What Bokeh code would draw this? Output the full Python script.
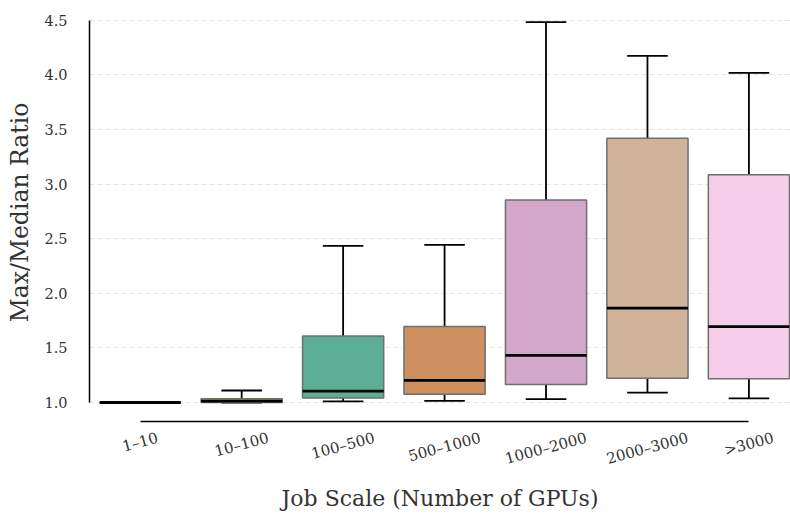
import math
from bokeh.plotting import figure
from bokeh.models import FixedTicker, PrintfTickFormatter, ColumnDataSource, CustomJSTickFormatter
from bokeh.embed import file_html
from bokeh.resources import INLINE

categories = ["1–10", "10–100", "100–500", "500–1000", "1000–2000", "2000–3000", ">3000"]
lower_whisker = [1.00, 1.00, 1.011, 1.014, 1.03, 1.09, 1.038]
q1 = [1.00, 1.00, 1.041, 1.075, 1.164, 1.221, 1.218]
median = [1.00, 1.012, 1.105, 1.203, 1.431, 1.864, 1.694]
q3 = [1.00, 1.035, 1.608, 1.697, 2.855, 3.421, 3.086]
upper_whisker = [1.00, 1.11, 2.434, 2.443, 4.484, 4.174, 4.018]
y_ticks = [1.0, 1.5, 2.0, 2.5, 3.0, 3.5, 4.0, 4.5]

colors = ["#6c9ec1", "#d5ac63", "#5cae94", "#cf905f", "#d4a8cb", "#d1b399", "#f5cde9"]

xs = list(range(len(categories)))
src = ColumnDataSource(dict(
    x=xs, lw=lower_whisker, q1=q1, med=median, q3=q3, uw=upper_whisker, color=colors,
    xl=[x - 0.4 for x in xs], xr=[x + 0.4 for x in xs],
    cl=[x - 0.2 for x in xs], cr=[x + 0.2 for x in xs],
))

FONT = "DejaVu Serif"
XLAB_PX = 15.0
PX_PER_UNIT = 101.5


def label_shift(s):
    # approximate half of the rotated label's horizontal extent, in data units,
    # so rotated (right-anchored) labels end up centred on their category
    w = 0.0
    for ch in s:
        if ch.isdigit():
            w += 0.636
        elif ch == "–":
            w += 0.5
        elif ch == ">":
            w += 0.838
        else:
            w += 0.6
    return w * XLAB_PX * math.cos(math.radians(15)) / 2 / PX_PER_UNIT


label_ticks = [i + label_shift(c) for i, c in enumerate(categories)]

p = figure(width=790, height=513, x_range=(-0.5, 6.41), y_range=(0.826, 4.654),
           output_backend="svg", toolbar_location=None,
           min_border_left=89, min_border_right=0, min_border_top=3, min_border_bottom=92)
p.outline_line_color = None
p.background_fill_color = "white"

# whiskers
p.segment(x0="x", y0="q3", x1="x", y1="uw", source=src, line_color="black", line_width=1.8)
p.segment(x0="x", y0="lw", x1="x", y1="q1", source=src, line_color="black", line_width=1.8)
# caps
p.segment(x0="cl", y0="uw", x1="cr", y1="uw", source=src, line_color="black", line_width=1.8)
p.segment(x0="cl", y0="lw", x1="cr", y1="lw", source=src, line_color="black", line_width=1.8)
# boxes
p.vbar(x="x", width=0.8, bottom="q1", top="q3", source=src, fill_color="color",
       line_color="#6f6f6f", line_width=1.5)
# medians
p.segment(x0="xl", y0="med", x1="xr", y1="med", source=src, line_color="black", line_width=2.8)

# axes
p.xaxis.ticker = FixedTicker(ticks=label_ticks)
p.xaxis.formatter = CustomJSTickFormatter(args=dict(labels=categories),
                                          code="return labels[Math.round(tick - 0.3)];")
p.xaxis.bounds = (0, 6)
p.xaxis.major_label_orientation = math.radians(15)
p.yaxis.ticker = FixedTicker(ticks=y_ticks)
p.yaxis.formatter = PrintfTickFormatter(format="%.1f")
p.yaxis.bounds = (1.0, 4.5)

for ax in (p.xaxis, p.yaxis):
    ax.axis_line_color = "black"
    ax.axis_line_width = 1.5
    ax.major_tick_line_color = None
    ax.minor_tick_line_color = None
    ax.major_label_text_font = FONT
    ax.major_label_text_color = "#333333"
    ax.axis_label_text_font = FONT
    ax.axis_label_text_font_style = "normal"
    ax.axis_label_text_color = "#333333"

p.xaxis.axis_label_text_font_size = "22px"
p.yaxis.axis_label_text_font_size = "23.5px"
p.xaxis.major_label_text_font_size = "15px"
p.yaxis.major_label_text_font_size = "14.5px"
p.xaxis.axis_label = "Job Scale (Number of GPUs)"
p.yaxis.axis_label = "Max/Median Ratio"
p.xaxis.major_label_standoff = 10
p.xaxis.axis_label_standoff = 6
p.yaxis.major_label_standoff = 16
p.yaxis.axis_label_standoff = 7

p.xgrid.grid_line_color = None
p.ygrid.ticker = FixedTicker(ticks=y_ticks)
p.ygrid.grid_line_color = "#e3e3e3"
p.ygrid.grid_line_dash = "5 3"
p.ygrid.grid_line_width = 1

open("out.html", "w").write(file_html(p, INLINE))
